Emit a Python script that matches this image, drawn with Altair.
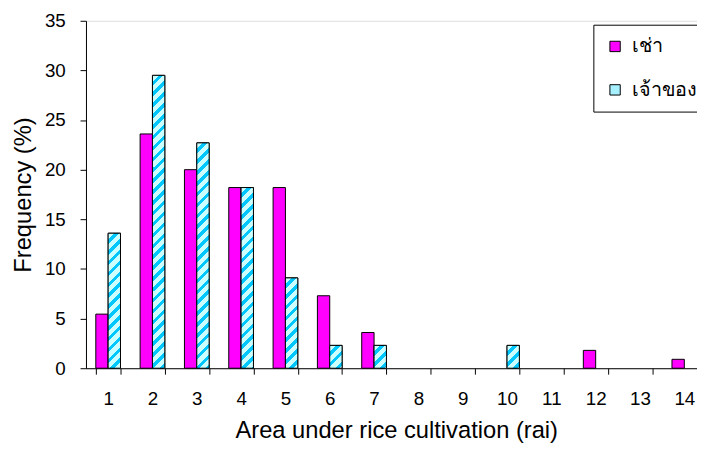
import math
import altair as alt

# ---- data ----
areas = list(range(1, 15))
tenant = [5.45, 23.6, 20.0, 18.2, 18.2, 7.3, 3.6, 0, 0, 0, 0, 1.8, 0, 0.9]   # เช่า
owner = [13.6, 29.5, 22.7, 18.2, 9.1, 2.3, 2.3, 0, 0, 2.3, 0, 0, 0, 0]       # เจ้าของ
series = ["เช่า", "เจ้าของ"]
y_ticks = [0, 5, 10, 15, 20, 25, 30, 35]

# ---- styling constants ----
FONT = "Liberation Sans"
MAGENTA = "#FF00FF"
LIGHT_CYAN = "#CCFFFF"
DARK_CYAN = "#00C8FF"
LEGEND_CYAN = "#A6F0FF"
PLOT_W = 619
RANGE_W = 628.6
PLOT_H = 352
Y_MAX = 35
BAR_W = 12.5
STRIPE = 11.0
DARK_FRAC = 0.42


def stripe_gradient(v):
    """Diagonal '/' hatch expressed as a bounding-box linear gradient."""
    h = v * PLOT_H / Y_MAX
    w = BAR_W
    d = w * w + h * h
    x2 = (w + h) * w / d
    y2 = (w + h) * h / d
    n = (w + h) / STRIPE
    stops = []
    k = 0
    while k / n < 1:
        a = k / n
        b = min((k + 1 - DARK_FRAC) / n, 1)
        c = min((k + 1) / n, 1)
        stops.append({"offset": a, "color": LIGHT_CYAN})
        stops.append({"offset": b, "color": LIGHT_CYAN})
        if b < 1:
            stops.append({"offset": b, "color": DARK_CYAN})
            stops.append({"offset": c, "color": DARK_CYAN})
        k += 1
    return {"gradient": "linear", "x1": 0, "y1": 0, "x2": x2, "y2": y2, "stops": stops}


rows = []
for a, t, o in zip(areas, tenant, owner):
    if t > 0:
        rows.append({"area": a, "series": series[0], "value": t})
    if o > 0:
        rows.append({"area": a, "series": series[1], "value": o})

hatch_rows = [
    {"area": a, "series": series[1], "value": o, "grad": stripe_gradient(o)}
    for a, o in zip(areas, owner) if o > 0
]

x_enc = alt.X(
    "area:O",
    scale=alt.Scale(domain=areas, range=[0, RANGE_W], paddingInner=0.443, paddingOuter=0.2215),
    axis=alt.Axis(
        title="Area under rice cultivation (rai)",
        labelAngle=0,
        labelFont=FONT, labelFontSize=19, labelColor="black",
        titleFont=FONT, titleFontSize=24, titleFontWeight="normal", titleColor="black",
        domainColor="black", tickColor="black", tickSize=6, tickBand="extent",
        labelPadding=16, titlePadding=10,
    ),
)
xo_enc = alt.XOffset(
    "series:N",
    scale=alt.Scale(domain=series, paddingInner=0, paddingOuter=0),
)
y_enc = alt.Y(
    "value:Q",
    scale=alt.Scale(domain=[0, Y_MAX], nice=False),
    axis=alt.Axis(
        title="Frequency (%)",
        values=y_ticks, grid=False,
        labelFont=FONT, labelFontSize=19, labelColor="black",
        titleFont=FONT, titleFontSize=24, titleFontWeight="normal", titleColor="black",
        domainColor="black", tickColor="black", tickSize=6,
        labelPadding=15, titlePadding=9,
    ),
)

bars = alt.Chart(alt.Data(values=rows)).mark_bar(
    stroke="black", strokeWidth=1
).encode(
    x=x_enc,
    xOffset=xo_enc,
    y=y_enc,
    color=alt.Color(
        "series:N",
        scale=alt.Scale(domain=series, range=[MAGENTA, LEGEND_CYAN]),
        legend=alt.Legend(
            title=None, orient="none", legendX=514, legendY=4,
            strokeColor="black", fillColor="white", padding=12,
            symbolType="square", symbolSize=110, symbolStrokeColor="black",
            symbolStrokeWidth=1, symbolOpacity=1,
            labelFont=FONT, labelFontSize=20, labelColor="black",
            labelOffset=7, rowPadding=24, labelLimit=200,
        ),
    ),
)

hatch = alt.Chart(alt.Data(values=hatch_rows)).mark_bar(
    stroke="black", strokeWidth=1
).encode(
    x=x_enc,
    xOffset=xo_enc,
    y=y_enc,
    fill=alt.Fill("grad:N", scale=None),
)

chart = alt.layer(bars, hatch).properties(
    width=PLOT_W,
    height=PLOT_H,
    autosize=alt.AutoSizeParams(type="none"),
    padding={"left": 79, "top": 10, "right": 0, "bottom": 88},
).configure_view(
    stroke="#A0A0A0", strokeWidth=1
).configure(
    background="white"
)

chart.save("out.html", embed_options={"renderer": "svg", "actions": False})
